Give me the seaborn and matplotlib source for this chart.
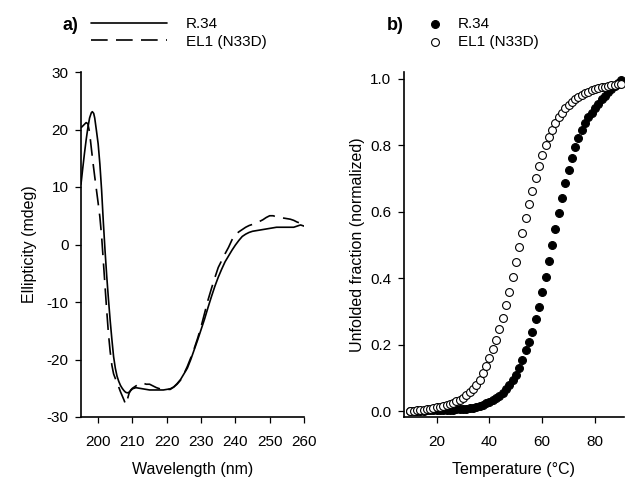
import matplotlib
matplotlib.use("Agg")
import matplotlib.pyplot as plt
import numpy as np
import pandas as pd
import seaborn as sns

sns.set_style("ticks")
plt.rcParams["font.family"] = ["Liberation Sans", "DejaVu Sans"]
plt.rcParams["font.size"] = 11
plt.rcParams["text.color"] = "black"
plt.rcParams["axes.labelcolor"] = "black"
plt.rcParams["xtick.color"] = "black"
plt.rcParams["ytick.color"] = "black"
plt.rcParams["axes.unicode_minus"] = False

# --------------------------------------------------------------------------- #
# a) CD spectra
# --------------------------------------------------------------------------- #
wl_r34 = [195, 195.5, 196, 196.5, 197, 197.5, 198, 198.3, 198.7, 199, 199.5, 200,
          200.5, 201, 201.5, 202, 202.5, 203, 203.5, 204, 204.5, 205, 205.5, 206,
          206.5, 207, 207.5, 208, 208.5, 209, 209.5, 210, 211, 212, 213, 214, 215,
          216, 217, 218, 219, 220, 221, 222, 223, 224, 225, 226, 227, 228, 229,
          230, 231, 232, 233, 234, 235, 236, 237, 238, 239, 240, 241, 242, 243,
          244, 245, 246, 247, 248, 249, 250, 251, 252, 253, 254, 255, 256, 257,
          258, 259, 260]
cd_r34 = [10.5, 13.2, 15.8, 18.2, 20.3, 22.0, 22.9, 23.1, 22.8, 22.0, 19.8, 17.5,
          14.0, 9.5, 4.0, -1.0, -5.5, -9.5, -13.2, -16.5, -19.5, -21.5, -22.9, -23.8,
          -24.5, -25.0, -25.4, -25.7, -25.8, -25.7, -25.4, -25.1, -24.9, -25.0, -25.1,
          -25.2, -25.3, -25.3, -25.3, -25.3, -25.3, -25.2, -25.1, -24.8, -24.2, -23.5,
          -22.5, -21.5, -20.0, -18.3, -16.6, -14.8, -13.0, -11.0, -9.1, -7.3, -5.7,
          -4.3, -3.0, -2.0, -1.0, -0.1, 0.7, 1.4, 1.8, 2.1, 2.3, 2.4, 2.5, 2.6, 2.7,
          2.8, 2.9, 3.0, 3.0, 3.0, 3.0, 3.0, 3.0, 3.2, 3.4, 3.2]

wl_el1 = [195, 195.5, 196, 196.5, 197, 197.5, 198, 198.5, 199, 199.5, 200, 200.5,
          201, 201.5, 202, 202.5, 203, 203.5, 204, 204.5, 205, 205.5, 206, 206.5,
          207, 207.5, 208, 208.5, 209, 209.5, 210, 211, 212, 213, 214, 215, 216,
          217, 218, 219, 220, 221, 222, 223, 224, 225, 226, 227, 228, 229, 230,
          231, 232, 233, 234, 235, 236, 237, 238, 239, 240, 241, 242, 243, 244,
          245, 246, 247, 248, 249, 250, 251, 252, 253, 254, 255, 256, 257, 258,
          259, 260]
cd_el1 = [20.3, 20.6, 20.9, 21.2, 21.0, 19.5, 16.8, 14.2, 11.8, 9.5, 7.2, 4.8,
          1.5, -2.8, -7.2, -11.5, -15.5, -18.6, -21.0, -22.5, -23.3, -24.0, -24.8,
          -25.6, -26.3, -27.0, -27.8, -27.0, -25.9, -25.3, -25.0, -24.6, -24.2,
          -24.1, -24.3, -24.3, -24.6, -24.9, -25.1, -25.2, -25.2, -25.2, -24.8,
          -24.3, -23.6, -22.5, -21.2, -19.7, -18.1, -16.3, -14.3, -12.0, -9.7, -7.7,
          -5.8, -4.0, -2.8, -1.6, -0.5, 0.8, 1.7, 2.2, 2.6, 3.0, 3.3, 3.5, 3.7, 4.0,
          4.3, 4.7, 5.0, 5.0, 4.8, 4.7, 4.6, 4.5, 4.4, 4.2, 3.9, 3.7, 3.4]

# --------------------------------------------------------------------------- #
# b) thermal unfolding
# --------------------------------------------------------------------------- #
temp = [10.0, 11.25, 12.5, 13.75, 15.0, 16.25, 17.5, 18.75, 20.0, 21.25, 22.5,
        23.75, 25.0, 26.25, 27.5, 28.75, 30.0, 31.25, 32.5, 33.75, 35.0, 36.25,
        37.5, 38.75, 40.0, 41.25, 42.5, 43.75, 45.0, 46.25, 47.5, 48.75, 50.0,
        51.25, 52.5, 53.75, 55.0, 56.25, 57.5, 58.75, 60.0, 61.25, 62.5, 63.75,
        65.0, 66.25, 67.5, 68.75, 70.0, 71.25, 72.5, 73.75, 75.0, 76.25, 77.5,
        78.75, 80.0, 81.25, 82.5, 83.75, 85.0, 86.25, 87.5, 88.75, 90.0]
unf_r34 = [0.000, 0.000, 0.001, 0.001, 0.001, 0.002, 0.002, 0.002, 0.002, 0.003,
           0.003, 0.003, 0.004, 0.004, 0.005, 0.005, 0.006, 0.007, 0.008, 0.010,
           0.013, 0.016, 0.019, 0.023, 0.027, 0.032, 0.038, 0.046, 0.055, 0.065,
           0.078, 0.092, 0.108, 0.129, 0.154, 0.184, 0.209, 0.239, 0.277, 0.314,
           0.359, 0.405, 0.452, 0.500, 0.548, 0.597, 0.643, 0.686, 0.726, 0.763,
           0.795, 0.822, 0.846, 0.866, 0.884, 0.899, 0.912, 0.926, 0.939, 0.950,
           0.960, 0.970, 0.980, 0.989, 0.997]
unf_el1 = [0.001, 0.001, 0.002, 0.003, 0.004, 0.005, 0.007, 0.009, 0.011, 0.013,
           0.015, 0.018, 0.021, 0.025, 0.029, 0.034, 0.040, 0.047, 0.056, 0.066,
           0.078, 0.093, 0.114, 0.136, 0.161, 0.186, 0.214, 0.246, 0.279, 0.319,
           0.359, 0.405, 0.450, 0.493, 0.537, 0.581, 0.623, 0.664, 0.703, 0.738,
           0.771, 0.800, 0.824, 0.846, 0.866, 0.884, 0.899, 0.912, 0.923, 0.932,
           0.940, 0.947, 0.953, 0.958, 0.962, 0.966, 0.969, 0.972, 0.975, 0.977,
           0.979, 0.981, 0.983, 0.984, 0.985]

W, H = 626, 482
fig = plt.figure(figsize=(W / 100, H / 100), dpi=100)
bottom = 1 - 417 / H
height = (417 - 72) / H
ax_a = fig.add_axes([81 / W, bottom, (304 - 81) / W, height])
ax_b = fig.add_axes([404 / W, bottom, (624 - 404) / W, height])


def style_axes(ax):
    sns.despine(ax=ax)
    for s in ("left", "bottom"):
        ax.spines[s].set_linewidth(1.2)
        ax.spines[s].set_color("black")
    ax.tick_params(direction="out", length=4, width=0.9, colors="black",
                   labelsize=11)
    ax.tick_params(axis="x", pad=9)
    ax.tick_params(axis="y", pad=5)


# panel a
df_a = pd.concat([
    pd.DataFrame({"wl": wl_r34, "cd": cd_r34, "sample": "R.34"}),
    pd.DataFrame({"wl": wl_el1, "cd": cd_el1, "sample": "EL1 (N33D)"}),
])
sns.lineplot(data=df_a[df_a["sample"] == "R.34"], x="wl", y="cd", ax=ax_a,
             color="black", lw=1.2, estimator=None, sort=False, label="R.34")
sns.lineplot(data=df_a[df_a["sample"] == "EL1 (N33D)"], x="wl", y="cd", ax=ax_a,
             color="black", lw=1.2, estimator=None, sort=False,
             dashes=False, label="EL1 (N33D)")
ax_a.lines[1].set_dashes((10, 5))
ax_a.set_xlim(195, 260)
ax_a.set_ylim(-30, 30)
ax_a.set_xticks([200, 210, 220, 230, 240, 250, 260])
ax_a.set_yticks([-30, -20, -10, 0, 10, 20, 30])
ax_a.set_xlabel("Wavelength (nm)", fontsize=11.5, labelpad=9)
ax_a.set_ylabel("Ellipticity (mdeg)", fontsize=11.5, labelpad=7)
style_axes(ax_a)
ax_a.legend(loc="upper left", bbox_to_anchor=(91 / W, 1 - 17 / H),
            bbox_transform=fig.transFigure, frameon=False, fontsize=11,
            handlelength=5.0, handletextpad=1.2, labelspacing=0.25,
            borderpad=0, borderaxespad=0)
fig.text(70 / W, 1 - 25 / H, "a)", fontsize=13, fontweight="bold",
         ha="center", va="center")

# panel b
df_b = pd.DataFrame({"temp": temp + temp,
                     "unf": unf_r34 + unf_el1,
                     "sample": ["R.34"] * len(temp) + ["EL1 (N33D)"] * len(temp)})
sns.scatterplot(data=df_b[df_b["sample"] == "R.34"], x="temp", y="unf", ax=ax_b,
                marker="o", s=32, color="black", edgecolor="black",
                linewidth=0.8, label="R.34", zorder=3)
sns.scatterplot(data=df_b[df_b["sample"] == "EL1 (N33D)"], x="temp", y="unf",
                ax=ax_b, marker="o", s=32, facecolor="white",
                edgecolor="black", linewidth=0.8, label="EL1 (N33D)", zorder=4)
ax_b.set_xlim(7.6, 91)
ax_b.set_ylim(-0.018, 1.021)
ax_b.set_xticks([20, 40, 60, 80])
ax_b.set_yticks([0.0, 0.2, 0.4, 0.6, 0.8, 1.0])
ax_b.set_yticklabels([f"{v:.1f}" for v in [0.0, 0.2, 0.4, 0.6, 0.8, 1.0]])
ax_b.set_xlabel("Temperature (\u00b0C)", fontsize=11.5, labelpad=9)
ax_b.set_ylabel("Unfolded fraction (normalized)", fontsize=11.5, labelpad=4)
style_axes(ax_b)
ax_b.legend(loc="upper left", bbox_to_anchor=(427 / W, 1 - 17 / H),
            bbox_transform=fig.transFigure, frameon=False, fontsize=11,
            handlelength=1.0, handletextpad=1.0, labelspacing=0.25,
            borderpad=0, borderaxespad=0, scatterpoints=1)
fig.text(395 / W, 1 - 25 / H, "b)", fontsize=13, fontweight="bold",
         ha="center", va="center")

fig.savefig("out.png", dpi=100)
